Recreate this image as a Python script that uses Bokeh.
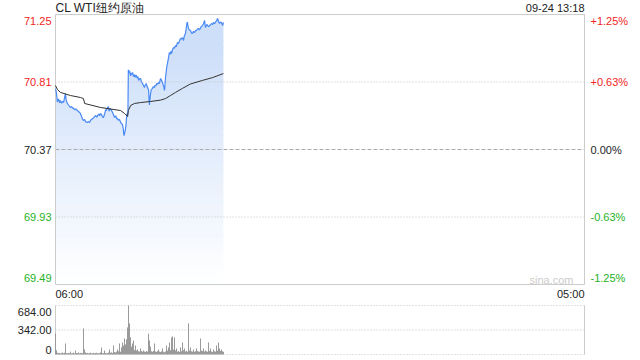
import numpy as np
from bokeh.plotting import figure
from bokeh.models import Label, Range1d
from bokeh.embed import file_html
from bokeh.resources import INLINE

# ---------------- data ----------------
title_text = "CL WTI纽约原油"
stamp_text = "09-24 13:18"
prev_close = 70.37
price_ticks = [71.25, 70.81, 70.37, 69.93, 69.49]
price_tick_labels = ["71.25", "70.81", "70.37", "69.93", "69.49"]
pct_labels = ["+1.25%", "+0.63%", "0.00%", "-0.63%", "-1.25%"]
time_labels = ["06:00", "05:00"]
session_minutes = 1380          # 06:00 -> 05:00 next day
vol_ticks = [684, 342, 0]
vol_tick_labels = ["684.00", "342.00", "0"]

# minutes after 06:00, price
price_t = [0, 2, 5, 8, 11, 13, 16, 19, 21, 23, 26, 28, 31, 34, 37, 39, 42, 45, 47, 50,
           53, 57, 60, 63, 65, 68, 71, 73, 76, 79, 83, 86, 89, 91, 94, 97, 99, 102, 105, 108,
           110, 113, 115, 117, 120, 123, 125, 128, 131, 133, 135, 138, 140, 143, 146, 149, 151, 154, 157, 160,
           162, 164, 167, 170, 172, 175, 177, 178, 179, 180, 182, 184, 185, 187, 188, 189, 190, 191, 193, 195,
           196, 198, 200, 201, 203, 205, 206, 208, 210, 211, 213, 215, 217, 219, 222, 224, 227, 229, 232, 234,
           237, 239, 241, 243, 244, 245, 246, 248, 250, 253, 255, 258, 260, 262, 264, 266, 269, 271, 274, 276,
           279, 281, 283, 284, 285, 287, 289, 290, 292, 295, 297, 299, 301, 303, 305, 308, 310, 313, 315, 318,
           321, 323, 326, 328, 331, 334, 336, 339, 341, 343, 344, 346, 347, 349, 352, 355, 357, 360, 363, 365,
           368, 370, 373, 375, 378, 380, 383, 386, 389, 391, 393, 395, 397, 400, 402, 405, 407, 410, 412, 415,
           417, 420, 423, 425, 428, 430, 433, 435, 436, 438]
price_v = [70.765, 70.745, 70.680, 70.700, 70.675, 70.690, 70.672, 70.685, 70.676, 70.700,
           70.735, 70.690, 70.670, 70.660, 70.650, 70.644, 70.650, 70.637, 70.640, 70.628,
           70.635, 70.624, 70.618, 70.611, 70.605, 70.585, 70.566, 70.559, 70.565, 70.550,
           70.546, 70.552, 70.545, 70.559, 70.566, 70.572, 70.575, 70.585, 70.592, 70.580,
           70.592, 70.600, 70.590, 70.605, 70.598, 70.580, 70.579, 70.600, 70.630, 70.624,
           70.640, 70.650, 70.620, 70.637, 70.625, 70.611, 70.598, 70.579, 70.590, 70.570,
           70.572, 70.560, 70.565, 70.546, 70.540, 70.530, 70.500, 70.470, 70.461, 70.475,
           70.495, 70.530, 70.572, 70.605, 70.590, 70.620, 70.890, 70.870, 70.885, 70.860,
           70.850, 70.870, 70.860, 70.872, 70.850, 70.845, 70.859, 70.840, 70.855, 70.852,
           70.835, 70.845, 70.820, 70.830, 70.833, 70.812, 70.800, 70.790, 70.774, 70.790,
           70.800, 70.780, 70.770, 70.755, 70.700, 70.661, 70.690, 70.735, 70.760, 70.768,
           70.780, 70.774, 70.790, 70.785, 70.800, 70.795, 70.807, 70.800, 70.833, 70.825,
           70.807, 70.790, 70.775, 70.755, 70.770, 70.839, 70.880, 70.905, 70.930, 70.970,
           71.002, 70.990, 71.010, 70.996, 71.020, 71.035, 71.030, 71.048, 71.040, 71.067,
           71.061, 71.075, 71.094, 71.090, 71.100, 71.081, 71.110, 71.126, 71.160, 71.195,
           71.200, 71.170, 71.159, 71.150, 71.146, 71.130, 71.126, 71.140, 71.133, 71.145,
           71.146, 71.155, 71.159, 71.150, 71.159, 71.170, 71.178, 71.190, 71.211, 71.165,
           71.175, 71.185, 71.178, 71.170, 71.178, 71.185, 71.191, 71.185, 71.198, 71.190,
           71.198, 71.210, 71.224, 71.205, 71.191, 71.200, 71.198, 71.185, 71.178, 71.198]

# average price line
avg_t = [0, 5, 13, 39, 65, 73, 76, 117, 170, 180, 188, 190, 196, 206, 222, 248, 274, 287,
         300, 313, 331, 352, 383, 410, 438]
avg_v = [70.787, 70.761, 70.742, 70.722, 70.709, 70.702, 70.670, 70.644, 70.624, 70.605,
         70.585, 70.624, 70.657, 70.670, 70.676, 70.683, 70.692, 70.702, 70.722, 70.742,
         70.768, 70.797, 70.820, 70.839, 70.865]

# volume, one bar per ~2.6 minute column starting at 06:00
vol_step = 2.6087
volume = [294, 60, 25, 18, 22, 15, 20, 28, 17, 24,
          154, 20, 16, 22, 18, 40, 15, 19, 26, 14,
          56, 22, 18, 30, 16, 20, 24, 18, 364, 70,
          28, 18, 22, 15, 20, 26, 14, 18, 22, 16,
          20, 24, 18, 15, 22, 28, 98, 20, 18, 56,
          22, 16, 20, 28, 70, 24, 30, 22, 126, 35,
          28, 40, 70, 45, 154, 38, 100, 168, 126, 224,
          140, 210, 378, 690, 434, 240, 110, 154, 196, 60,
          126, 55, 70, 45, 40, 84, 50, 38, 56, 42,
          35, 48, 40, 290, 196, 110, 45, 38, 50, 154,
          42, 36, 48, 70, 40, 35, 45, 84, 38, 30,
          42, 126, 55, 98, 168, 60, 238, 252, 70, 238,
          56, 84, 40, 48, 35, 98, 45, 168, 60, 84,
          42, 50, 38, 434, 55, 98, 45, 40, 70, 38,
          45, 84, 50, 42, 38, 224, 55, 48, 84, 40,
          56, 45, 38, 168, 50, 84, 42, 36, 70, 45,
          40, 126, 55, 168, 84, 50, 70, 45, 38]

# ---------------- layout (pixels of the 640x360 canvas) ----------------
W, H = 640, 360
PX_L, PX_R = 55, 584          # plot area left/right
PY_T, PY_B = 14, 284          # price panel top/bottom
VY_T, VY_B = 305, 354         # volume panel top/bottom

FONT = "Liberation Sans"
RED = "#f02424"
GREEN = "#26b226"
BLACK = "#222222"
BLUE = "#4a8af4"
BORDER = "#cccccc"

ymin, ymax = price_ticks[-1], price_ticks[0]
vmax = vol_ticks[0]

# ranges chosen so the plot frame covers the whole canvas
mpp = session_minutes / (PX_R - PX_L)
x0 = -PX_L * mpp
x1 = session_minutes + (W - PX_R) * mpp
ppp = (ymax - ymin) / (PY_B - PY_T)
y_top = ymax + PY_T * ppp
y_bot = ymin - (H - PY_B) * ppp
vpp = vmax / (VY_B - VY_T)
v_top = vmax + VY_T * vpp
v_bot = -(H - VY_B) * vpp

p = figure(width=W, height=H, output_backend="svg", toolbar_location=None,
           x_range=Range1d(x0, x1), y_range=Range1d(y_bot, y_top),
           x_axis_type=None, y_axis_type=None, min_border=0)
p.min_border_left = p.min_border_right = p.min_border_top = p.min_border_bottom = 0
p.outline_line_color = None
p.background_fill_color = "white"
p.border_fill_color = "white"
p.extra_y_ranges = {"vol": Range1d(v_bot, v_top)}

pt = np.array(price_t, dtype=float)
pv = np.array(price_v, dtype=float)

# gradient fill under the price line (stacked horizontal bands, each overlapping
# the next by ~1px so no seams show)
nb = 40
edges = np.linspace(ymin, ymax, nb + 1)
top_rgb = np.array([206, 223, 249])
bot_rgb = np.array([255, 255, 255])
for k in range(nb):
    lo, hi = edges[k], edges[k + 1]
    f = (k + 0.5) / nb
    f = min(1.0, f * 1.15)
    rgb = bot_rgb + (top_rgb - bot_rgb) * f
    col = "#%02x%02x%02x" % tuple(int(round(c)) for c in rgb)
    y2 = np.clip(pv, lo, hi + 1.2 * ppp)
    p.varea(x=pt, y1=np.full_like(pv, lo), y2=y2, fill_color=col, fill_alpha=1.0)

# price grid lines
for v in price_ticks[1:-1]:
    if abs(v - prev_close) < 1e-9:
        p.line([0, session_minutes], [v, v], line_color="#aaaaaa", line_dash="4 2", line_width=1)
    else:
        p.line([0, session_minutes], [v, v], line_color="#c4c4c4", line_dash="1 2", line_width=1)

# price panel border
p.line([0, session_minutes, session_minutes, 0, 0], [ymax, ymax, ymin, ymin, ymax],
       line_color=BORDER, line_width=1)

p.line(pt, pv, line_color=BLUE, line_width=1.2)
p.line(avg_t, avg_v, line_color="#333333", line_width=1)

def col_for(v):
    if v > prev_close + 1e-9:
        return RED
    if v < prev_close - 1e-9:
        return GREEN
    return BLACK

for i, (v, lab, pl) in enumerate(zip(price_ticks, price_tick_labels, pct_labels)):
    off = 0
    if i == 0:
        off = -6
    elif i == len(price_ticks) - 1:
        off = 7
    c = col_for(v)
    p.add_layout(Label(x=0, y=v, text=lab, x_offset=-4, y_offset=off,
                       text_align="right", text_baseline="middle",
                       text_font=FONT, text_font_size="11px", text_color=c))
    p.add_layout(Label(x=session_minutes, y=v, text=pl, x_offset=6, y_offset=off,
                       text_align="left", text_baseline="middle",
                       text_font=FONT, text_font_size="11px", text_color=c))

p.add_layout(Label(x=0, y=ymax, text=title_text, x_offset=0, y_offset=7,
                   text_align="left", text_baseline="middle",
                   text_font=FONT, text_font_size="12px", text_color=BLACK))
p.add_layout(Label(x=session_minutes, y=ymax, text=stamp_text, x_offset=0, y_offset=7,
                   text_align="right", text_baseline="middle",
                   text_font=FONT, text_font_size="11px", text_color=BLACK))
p.add_layout(Label(x=0, y=ymin, text=time_labels[0], x_offset=0, y_offset=-9,
                   text_align="left", text_baseline="middle",
                   text_font=FONT, text_font_size="11px", text_color=BLACK))
p.add_layout(Label(x=session_minutes, y=ymin, text=time_labels[1], x_offset=0, y_offset=-9,
                   text_align="right", text_baseline="middle",
                   text_font=FONT, text_font_size="11px", text_color=BLACK))
p.add_layout(Label(x=session_minutes, y=ymin, text="sina.com", x_offset=-11, y_offset=5,
                   text_align="right", text_baseline="middle",
                   text_font=FONT, text_font_size="11px", text_color="#cccccc"))

# ---------------- volume panel ----------------
for v in vol_ticks:
    p.line([0, session_minutes], [v, v], line_color="#c4c4c4", line_dash="1 2",
           line_width=1, y_range_name="vol")
p.line([0, 0], [0, vmax], line_color=BORDER, line_width=1, y_range_name="vol")
p.line([session_minutes, session_minutes], [0, vmax], line_color=BORDER, line_width=1,
       y_range_name="vol")

vt = np.arange(len(volume)) * vol_step
vv = np.minimum(np.array(volume, dtype=float), vmax)
p.segment(x0=vt, y0=np.zeros_like(vv), x1=vt, y1=vv, line_color="#9a9a9a", line_width=1,
          y_range_name="vol")

for i, (v, lab) in enumerate(zip(vol_ticks, vol_tick_labels)):
    off = 0
    if i == 0:
        off = -6
    elif i == len(vol_ticks) - 1:
        off = 5
    p.add_layout(Label(x=0, y=v, y_range_name="vol", text=lab, x_offset=-4, y_offset=off,
                       text_align="right", text_baseline="middle",
                       text_font=FONT, text_font_size="11px", text_color=BLACK))

open("out.html", "w").write(file_html(p, INLINE))
